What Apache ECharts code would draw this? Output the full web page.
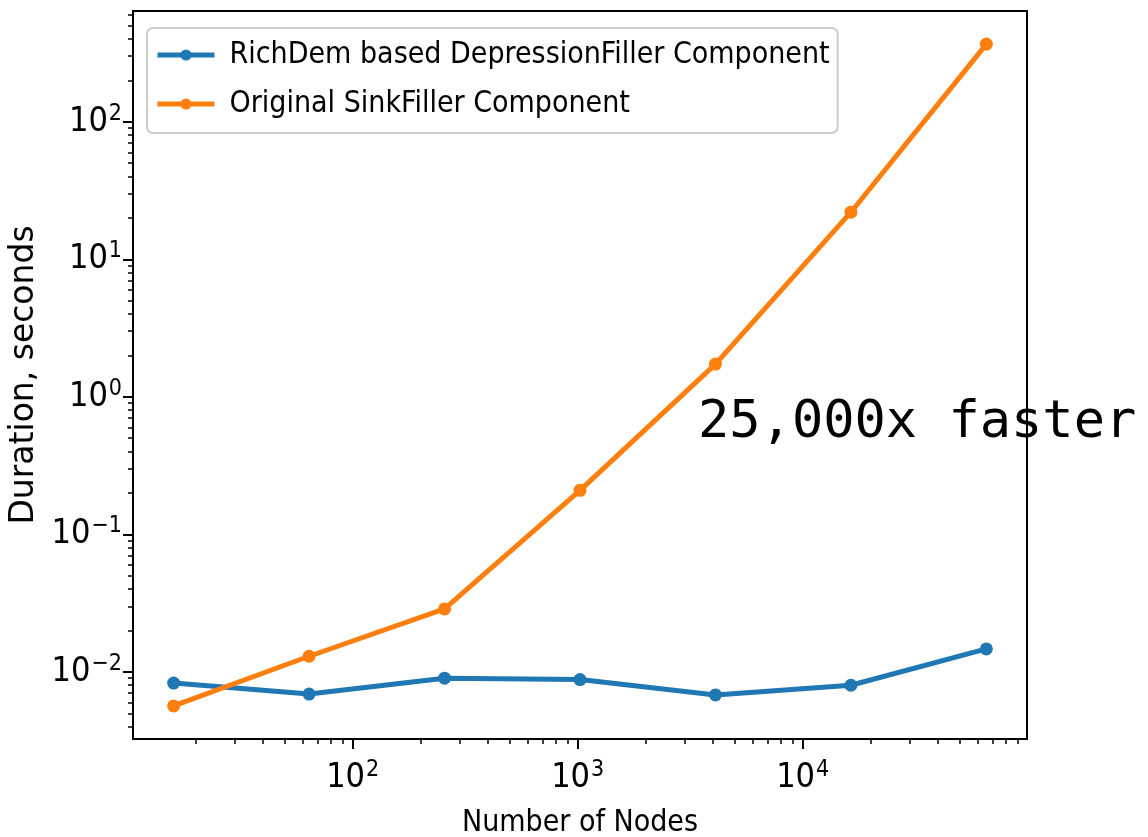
<!DOCTYPE html>
<html><head><meta charset="utf-8">
<script src="https://cdn.jsdelivr.net/npm/echarts@6/dist/echarts.min.js"></script>
<style>html,body{margin:0;padding:0;background:#fff}#c{width:1148px;height:837px}</style>
</head><body><div id="c"></div>
<script>
// ---- data ----
const nodes = [16, 64, 256, 1024, 4096, 16384, 65536];
const richDemSeconds = [0.0083, 0.0069, 0.0090, 0.0088, 0.0068, 0.0080, 0.0147];
const sinkFillerSeconds = [0.00566, 0.0130, 0.0287, 0.209, 1.73, 22.0, 367];
const seriesNames = ['RichDem based DepressionFiller Component', 'Original SinkFiller Component'];
const xMajorTicks = [100, 1000, 10000];
const xMinorTicks = [20, 30, 40, 50, 60, 70, 80, 90,
  200, 300, 400, 500, 600, 700, 800, 900,
  2000, 3000, 4000, 5000, 6000, 7000, 8000, 9000,
  20000, 30000, 40000, 50000, 60000, 70000, 80000, 90000];
const yMajorTicks = [0.01, 0.1, 1, 10, 100];
const yMinorTicks = [0.004, 0.005, 0.006, 0.007, 0.008, 0.009,
  0.02, 0.03, 0.04, 0.05, 0.06, 0.07, 0.08, 0.09,
  0.2, 0.3, 0.4, 0.5, 0.6, 0.7, 0.8, 0.9,
  2, 3, 4, 5, 6, 7, 8, 9,
  20, 30, 40, 50, 60, 70, 80, 90,
  200, 300, 400, 500, 600];
const xAxisTitle = 'Number of Nodes';
const yAxisTitle = 'Duration, seconds';
const annotationText = '25,000x faster';

// ---- styling ----
const COND = "'DejaVu Sans Condensed', 'DejaVu Sans', sans-serif";
const SANS = "'DejaVu Sans', sans-serif";
const BLUE = '#1f77b4', ORANGE = '#ff7f0e';

// log-space extent with matplotlib-like 5% margins
function logRange(vals) {
  const lo = Math.log10(Math.min.apply(null, vals));
  const hi = Math.log10(Math.max.apply(null, vals));
  const m = (hi - lo) * 0.05;
  return [Math.pow(10, lo - m), Math.pow(10, hi + m)];
}
const xr = logRange(nodes);
const yr = logRange(richDemSeconds.concat(sinkFillerSeconds));

function powLabel(v) {
  const e = Math.round(Math.log10(v));
  const s = e < 0 ? '\u2212' + (-e) : String(e);
  return '{b|10}{s|' + s + '}';
}
const richStyle = {
  b: { fontFamily: COND, fontSize: 34, lineHeight: 40, color: '#000' },
  s: { fontFamily: COND, fontSize: 23, color: '#000', padding: [0, 0, 16, 1] }
};

function mainAxis(range, ticks, isX) {
  return {
    type: 'log', min: range[0], max: range[1],
    position: isX ? 'bottom' : 'left',
    axisLine: { show: false },
    splitLine: { show: false },
    minorTick: { show: false },
    axisTick: { show: true, inside: false, length: 10, customValues: ticks,
      lineStyle: { color: '#000', width: 2 } },
    axisLabel: { show: true, customValues: ticks, margin: isX ? 19 : 11,
      formatter: powLabel, rich: richStyle, color: '#000' },
    name: isX ? xAxisTitle : yAxisTitle,
    nameLocation: 'middle',
    nameGap: isX ? 69 : 77,
    nameRotate: isX ? 0 : 90,
    nameTextStyle: isX ? { fontFamily: COND, fontSize: 30, color: '#000' }
                       : { fontFamily: SANS, fontSize: 33, color: '#000' }
  };
}
function minorAxis(range, ticks, isX) {
  return {
    type: 'log', min: range[0], max: range[1],
    position: isX ? 'bottom' : 'left',
    axisLine: { show: false },
    splitLine: { show: false },
    axisLabel: { show: false },
    axisTick: { show: true, inside: false, length: 5, customValues: ticks,
      lineStyle: { color: '#000', width: 1.5 } }
  };
}

const chart = echarts.init(document.getElementById('c'), null, { renderer: 'canvas' });
chart.setOption({
  animation: false,
  backgroundColor: '#fff',
  grid: { left: 133, right: 121, top: 11, bottom: 98, show: true,
    borderColor: '#000', borderWidth: 2, backgroundColor: 'transparent',
    containLabel: false, outerBoundsMode: 'none' },
  xAxis: [mainAxis(xr, xMajorTicks, true), minorAxis(xr, xMinorTicks, true)],
  yAxis: [mainAxis(yr, yMajorTicks, false), minorAxis(yr, yMinorTicks, false)],
  legend: {
    orient: 'vertical', left: 147, top: 28,
    padding: [12, 8, 14, 8],
    itemGap: 19, itemWidth: 57, itemHeight: 14,
    backgroundColor: 'rgba(255,255,255,0.8)', borderColor: '#cccccc',
    borderWidth: 2, borderRadius: 6,
    lineStyle: { width: 5 },
    textStyle: { fontFamily: COND, fontSize: 30, color: '#000', padding: [0, 0, 0, 10] },
    data: seriesNames
  },
  graphic: [{
    type: 'text', x: 698, y: 423, z: -1,
    style: { text: annotationText, font: "52px 'DejaVu Sans Mono', monospace",
      fill: '#000', verticalAlign: 'middle', align: 'left' }
  }],
  series: [
    { name: seriesNames[0], type: 'line', xAxisIndex: 0, yAxisIndex: 0,
      data: nodes.map((n, i) => [n, richDemSeconds[i]]),
      symbol: 'circle', symbolSize: 13, showSymbol: true,
      lineStyle: { width: 5, color: BLUE }, itemStyle: { color: BLUE },
      emphasis: { disabled: true } },
    { name: seriesNames[1], type: 'line', xAxisIndex: 0, yAxisIndex: 0,
      data: nodes.map((n, i) => [n, sinkFillerSeconds[i]]),
      symbol: 'circle', symbolSize: 13, showSymbol: true,
      lineStyle: { width: 5, color: ORANGE }, itemStyle: { color: ORANGE },
      emphasis: { disabled: true } }
  ]
});
</script></body></html>
